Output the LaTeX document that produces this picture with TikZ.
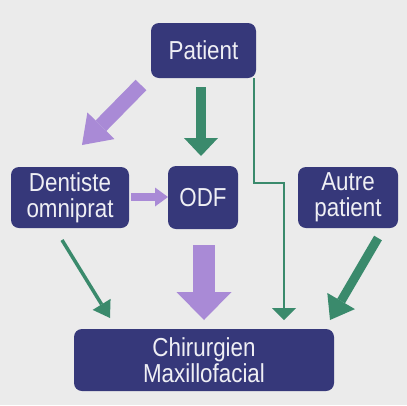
\documentclass[tikz,border=0pt]{standalone}
\usepackage{fontspec}
\setmainfont{Liberation Sans}[FakeStretch=0.86]
\usetikzlibrary{arrows.meta}
\definecolor{bgc}{HTML}{EBEBEB}
\definecolor{navy}{HTML}{36387A}
\definecolor{lilac}{HTML}{A98AD6}
\definecolor{ggreen}{HTML}{3A8A6C}
\begin{document}
\begin{tikzpicture}[x=1pt,y=-1pt,
  box/.style={fill=navy, rounded corners=8pt, text=white!92!navy,
    font=\fontsize{26}{26}\selectfont, align=center, inner sep=0pt},
  fat/.style n args={4}{draw=#1, line width=#2,
    -{Triangle[width=#3,length=#4,line width=0pt]}}]
\fill[bgc] (0,0) rectangle (407,405);
\useasboundingbox (0,0) rectangle (407,405);
% nodes
\node[box, minimum width=105pt, minimum height=55pt] (P) at (203.5,50.5) {Patient};
\node[box, minimum width=118pt, minimum height=61pt] (D) at (70,197.5) {Dentiste\\omniprat};
\node[box, minimum width=70pt, minimum height=63pt] (O) at (203,197.5) {ODF};
\node[box, minimum width=100pt, minimum height=61pt] (A) at (348,197.5) {Autre\\patient};
\node[box, minimum width=260pt, minimum height=62pt] (C) at (204,360) {Chirurgien\\Maxillofacial};
% arrow end points
\coordinate (pd1) at (141,85);  \coordinate (pd2) at (82,145);
\coordinate (po1) at (201,87);  \coordinate (po2) at (201,156);
\coordinate (do1) at (131,197); \coordinate (do2) at (168,197);
\coordinate (oc1) at (204,245); \coordinate (oc2) at (204,320);
\coordinate (dc1) at (62,240);  \coordinate (dc2) at (110,318);
\coordinate (ac1) at (378,238); \coordinate (ac2) at (330,320);
\coordinate (pc1) at (254,78);  \coordinate (pcb) at (284,183); \coordinate (pc2) at (284,320);
% arrows
\draw[fat={lilac}{15pt}{38pt}{27pt}] (pd1) -- (pd2);
\draw[fat={ggreen}{10pt}{34pt}{18pt}] (po1) -- (po2);
\draw[fat={lilac}{8pt}{19pt}{13pt}] (do1) -- (do2);
\draw[fat={lilac}{22pt}{55pt}{28pt}] (oc1) -- (oc2);
\draw[fat={ggreen}{3.5pt}{21pt}{16pt}] (dc1) -- (dc2);
\draw[fat={ggreen}{9pt}{32pt}{22pt}] (ac1) -- (ac2);
\draw[fat={ggreen}{2.5pt}{24pt}{12pt}] (pc1) |- (pcb) -- (pc2);
\end{tikzpicture}
\end{document}
